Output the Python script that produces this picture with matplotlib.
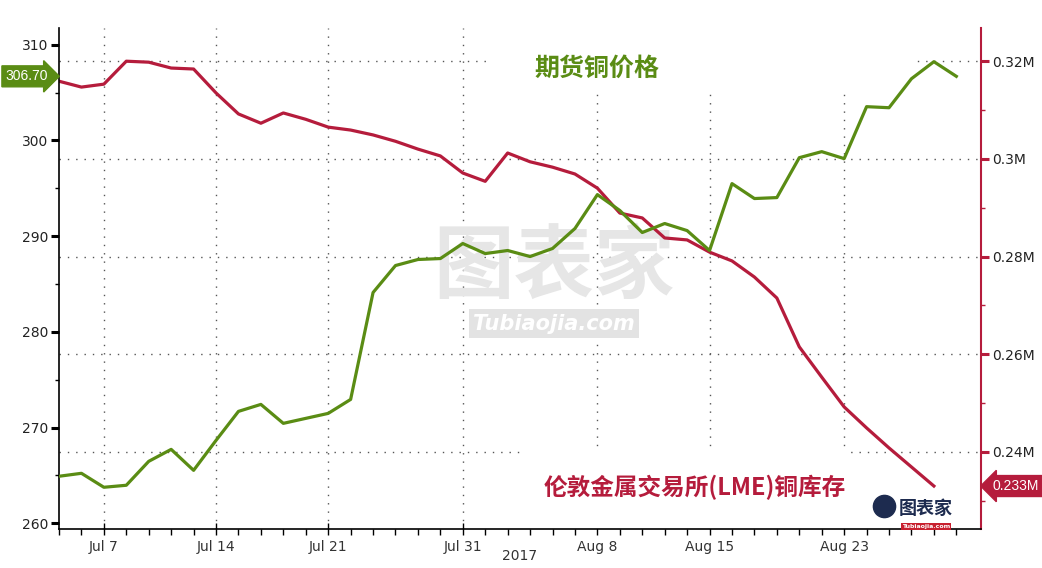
import matplotlib
matplotlib.use("Agg")
import matplotlib.pyplot as plt
import numpy as np
import pandas as pd
from matplotlib.patches import Rectangle
from matplotlib.ticker import FuncFormatter, MultipleLocator

plt.rcParams["font.family"] = ["DejaVu Sans", "Noto Sans CJK SC"]

# LME trading days, Jul 5 - Aug 31 2017 (Aug 28 UK bank holiday)
days = [d for d in pd.bdate_range("2017-07-05", "2017-08-31") if d != pd.Timestamp("2017-08-28")]

# copper futures price (left axis)
price = [264.91, 265.22, 263.76, 263.97, 266.47, 267.72, 265.53, 268.66, 271.69, 272.42,
         270.44, 270.96, 271.48, 272.94, 284.11, 286.93, 287.56, 287.66, 289.23, 288.18,
         288.50, 287.87, 288.71, 290.80, 294.34, 292.68, 290.38, 291.32, 290.58, 288.50,
         295.49, 293.93, 294.03, 298.20, 298.83, 298.10, 303.53, 303.42, 306.45, 308.23,
         306.70]

# LME copper stocks, tonnes (right axis)
stocks = [315900, 314700, 315300, 320000, 319800, 318600, 318400, 313500, 309200, 307300,
          309400, 308100, 306500, 305900, 304900, 303600, 302000, 300600, 297100, 295400,
          301200, 299400, 298300, 296900, 294000, 288900, 287900, 283800, 283400, 280900,
          279100, 275800, 271500, 261500, 255300, 249200, 244900, 240800, 236900, 233000]

tick_days = ["2017-07-07", "2017-07-14", "2017-07-21", "2017-07-31",
             "2017-08-08", "2017-08-15", "2017-08-23"]

GREEN = "#5a8c14"
RED = "#b51c3c"
GRID = "#555555"

x_price = np.arange(len(price))
x_stock = np.arange(len(stocks))
day_index = {d.strftime("%Y-%m-%d"): i for i, d in enumerate(days)}
tick_pos = [day_index[t] for t in tick_days]
tick_lbl = [pd.Timestamp(t).strftime("%b ") + str(pd.Timestamp(t).day) for t in tick_days]

fig = plt.figure(figsize=(10.42, 5.68), dpi=100)
ax = fig.add_axes([59 / 1042, 1 - 529 / 568, 922 / 1042, 501 / 568])
ax2 = ax.twinx()

# red axis lives on the right, green axis on the left
ax.yaxis.tick_right()
ax2.yaxis.tick_left()
ax.set_zorder(1)
ax2.set_zorder(2)
ax2.patch.set_visible(False)

# stocks (right axis)
ax.plot(x_stock, stocks, color=RED, lw=2.3, zorder=5, solid_joinstyle="round")
ax.set_ylim(224200, 326800)
ax.yaxis.set_major_locator(MultipleLocator(20000))
ax.yaxis.set_minor_locator(MultipleLocator(10000))
ax.yaxis.set_major_formatter(FuncFormatter(lambda v, p: f"{v / 1e6:g}M"))
ax.tick_params(axis="y", which="major", direction="out", length=6, width=2.2,
               color=RED, labelsize=10, labelcolor="#222222", pad=2)
ax.tick_params(axis="y", which="minor", direction="out", length=3, width=1, color=RED)

ax.set_xlim(0, 41.1)
ax.set_xticks(tick_pos)
ax.set_xticklabels(tick_lbl)
ax.set_xticks(x_price, minor=True)
ax.tick_params(axis="x", which="major", direction="inout", length=8, width=1,
               labelsize=10, labelcolor="#333333", pad=4)
ax.tick_params(axis="x", which="minor", direction="out", length=4, width=1)

ax.set_axisbelow(True)
ax.grid(True, which="major", axis="both", color=GRID, linestyle=(0, (1, 5)), lw=1)

for side in ["top", "left"]:
    ax.spines[side].set_visible(False)
ax.spines["right"].set_color(RED)
ax.spines["right"].set_linewidth(1.5)
ax.spines["bottom"].set_linewidth(1.2)

# white boxes behind the legend texts hide the grid
ax.add_patch(Rectangle((0.467, 0.88), 0.458, 0.12, transform=ax.transAxes,
                       facecolor="white", edgecolor="none", zorder=2))
ax.add_patch(Rectangle((0.50, 0.0), 0.355, 0.155, transform=ax.transAxes,
                       facecolor="white", edgecolor="none", zorder=2))

# watermark
ax.text(0.537, 0.52, "图表家", transform=ax.transAxes, ha="center", va="center",
        fontsize=58, fontweight="bold", color="#e6e6e6", zorder=1,
        family=["Noto Sans CJK SC"])
ax.text(0.537, 0.41, "Tubiaojia.com", transform=ax.transAxes, ha="center", va="center",
        fontsize=15, fontweight="bold", style="italic", color="white", zorder=1,
        bbox=dict(boxstyle="square,pad=0.2", fc="#e3e3e3", ec="none"))

# price (left axis)
ax2.plot(x_price, price, color=GREEN, lw=2.3, zorder=5, solid_joinstyle="round")
ax2.set_ylim(259.4, 311.75)
ax2.yaxis.set_major_locator(MultipleLocator(10))
ax2.yaxis.set_minor_locator(MultipleLocator(5))
ax2.tick_params(axis="y", which="major", direction="out", length=6, width=2.2,
                color="black", labelsize=10, labelcolor="#222222", pad=2)
ax2.tick_params(axis="y", which="minor", direction="out", length=3, width=1)
for side in ["top", "right", "bottom"]:
    ax2.spines[side].set_visible(False)
ax2.spines["left"].set_linewidth(1.2)

# last value labels
ax2.annotate(f"{price[-1]:.2f}", xy=(0, price[-1]), xycoords=("axes fraction", "data"),
             xytext=(-8, 0), textcoords="offset points", ha="right", va="center",
             color="white", fontsize=10, family=["Liberation Sans"],
             bbox=dict(boxstyle="rarrow,pad=0.25", fc=GREEN, ec=GREEN))
ax.annotate(f"{stocks[-1] / 1e6:.3f}M", xy=(1, stocks[-1]), xycoords=("axes fraction", "data"),
            xytext=(8, 0), textcoords="offset points", ha="left", va="center",
            color="white", fontsize=10, family=["Liberation Sans"],
            bbox=dict(boxstyle="larrow,pad=0.25", fc=RED, ec=RED))

# series titles
ax2.text(0.584, 0.918, "期货铜价格", transform=ax2.transAxes, ha="center", va="center",
         fontsize=18, fontweight="bold", color=GREEN, family=["Noto Sans CJK SC"])
ax2.text(0.689, 0.082, "伦敦金属交易所(LME)铜库存", transform=ax2.transAxes, ha="center",
         va="center", fontsize=17, fontweight="bold", color=RED,
         family=["Noto Sans CJK SC", "DejaVu Sans"])

# small logo, bottom right
ax2.text(0.94, 0.04, "图表家", transform=ax2.transAxes, ha="center", va="center",
         fontsize=13, fontweight="bold", color="#1d2b4f", family=["Noto Sans CJK SC"])
ax2.text(0.94, 0.0, "Tubiaojia.com", transform=ax2.transAxes, ha="center", va="bottom",
         fontsize=4.5, fontweight="bold", color="white",
         bbox=dict(boxstyle="square,pad=0.15", fc="#c8202f", ec="none"))
ax2.plot([0.895], [0.045], "o", ms=16, color="#1d2b4f", transform=ax2.transAxes)

ax.text(0.5, -0.04, "2017", transform=ax.transAxes, ha="center", va="top",
        fontsize=10, color="#333333")

fig.savefig("out.png", dpi=100)
